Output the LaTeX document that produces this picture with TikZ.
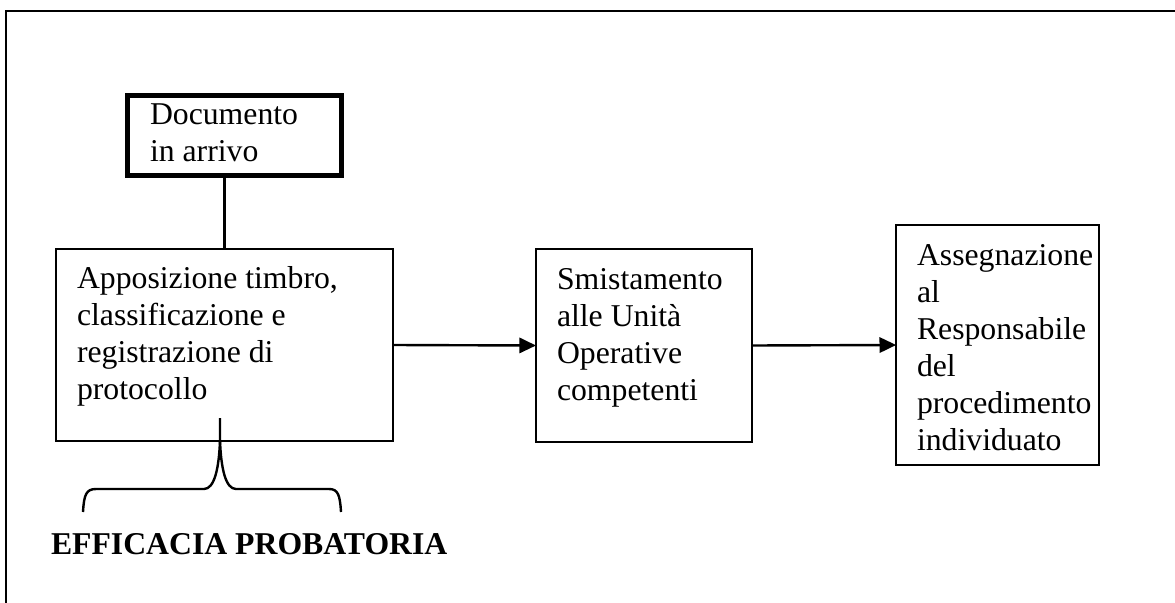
\documentclass[tikz,border=0pt]{standalone}
\usepackage{fontspec}
\setmainfont{Liberation Serif}
\usetikzlibrary{arrows.meta}
\newcommand{\boxtext}[2]{\parbox[t]{#1}{\raggedright\fontsize{23.8}{27.75}\selectfont #2}}
\tikzset{
  box/.style={draw, line width=1.5pt, inner sep=0pt, outer sep=0pt, rectangle},
  thickbox/.style={draw, line width=3.8pt, inner sep=0pt, outer sep=0pt, rectangle},
  txt/.style={inner sep=0pt, outer sep=0pt, anchor=base west},
  conn/.style={line width=1.8pt},
  bracestyle/.style={line width=1.8pt},
  arr/.style={line width=1.8pt, -{Triangle[length=12.5pt,width=11.5pt]}}
}
\begin{document}
\begin{tikzpicture}[x=0.75pt,y=-0.75pt]
\useasboundingbox (0,0) rectangle (1175,603);
% outer frame
\draw[line width=1.8pt] (1180,11) -- (6,11) -- (6,610);
% boxes
\node[thickbox, minimum width=160.5pt, minimum height=60.2pt] (doc) at (234.5,135.5) {};
\node[box, minimum width=252.75pt, minimum height=144pt] (app) at (224.5,345) {};
\node[box, minimum width=162pt, minimum height=144.75pt] (smi) at (644,345.5) {};
\node[box, minimum width=152pt, minimum height=180pt] (ass) at (997.5,345) {};
% texts
\node[txt] (tdoc) at (150,124) {\boxtext{160pt}{Documento\\in arrivo}};
\node[txt] (tapp) at (77,288) {\boxtext{240pt}{Apposizione timbro,\\classificazione e\\registrazione di\\protocollo}};
\node[txt] (tsmi) at (557,289) {\boxtext{160pt}{Smistamento\\alle Unità\\Operative\\competenti}};
\node[txt] (tass) at (917,265) {\boxtext{160pt}{Assegnazione\\al\\Responsabile\\del\\procedimento\\individuato}};
\node[txt] (eff) at (51,554) {\fontsize{23.8}{27.75}\selectfont\bfseries EFFICACIA PROBATORIA};
% connectors
\draw[conn] (doc.south -| app.north) -- (app.north);
\draw[arr] (app.east) -- (smi.west);
\draw[arr] (smi.east) -- (ass.west);
% brace
\draw[bracestyle] (83,512) .. controls (84,495) and (86,489) .. (96,489) -- (204,489)
  .. controls (214,489) and (219,470) .. (220,440) -- (220,418);
\draw[bracestyle] (220,440) .. controls (221,470) and (226,489) .. (236,489) -- (329,489)
  .. controls (338,489) and (340,495) .. (341,512);
\end{tikzpicture}
\end{document}
